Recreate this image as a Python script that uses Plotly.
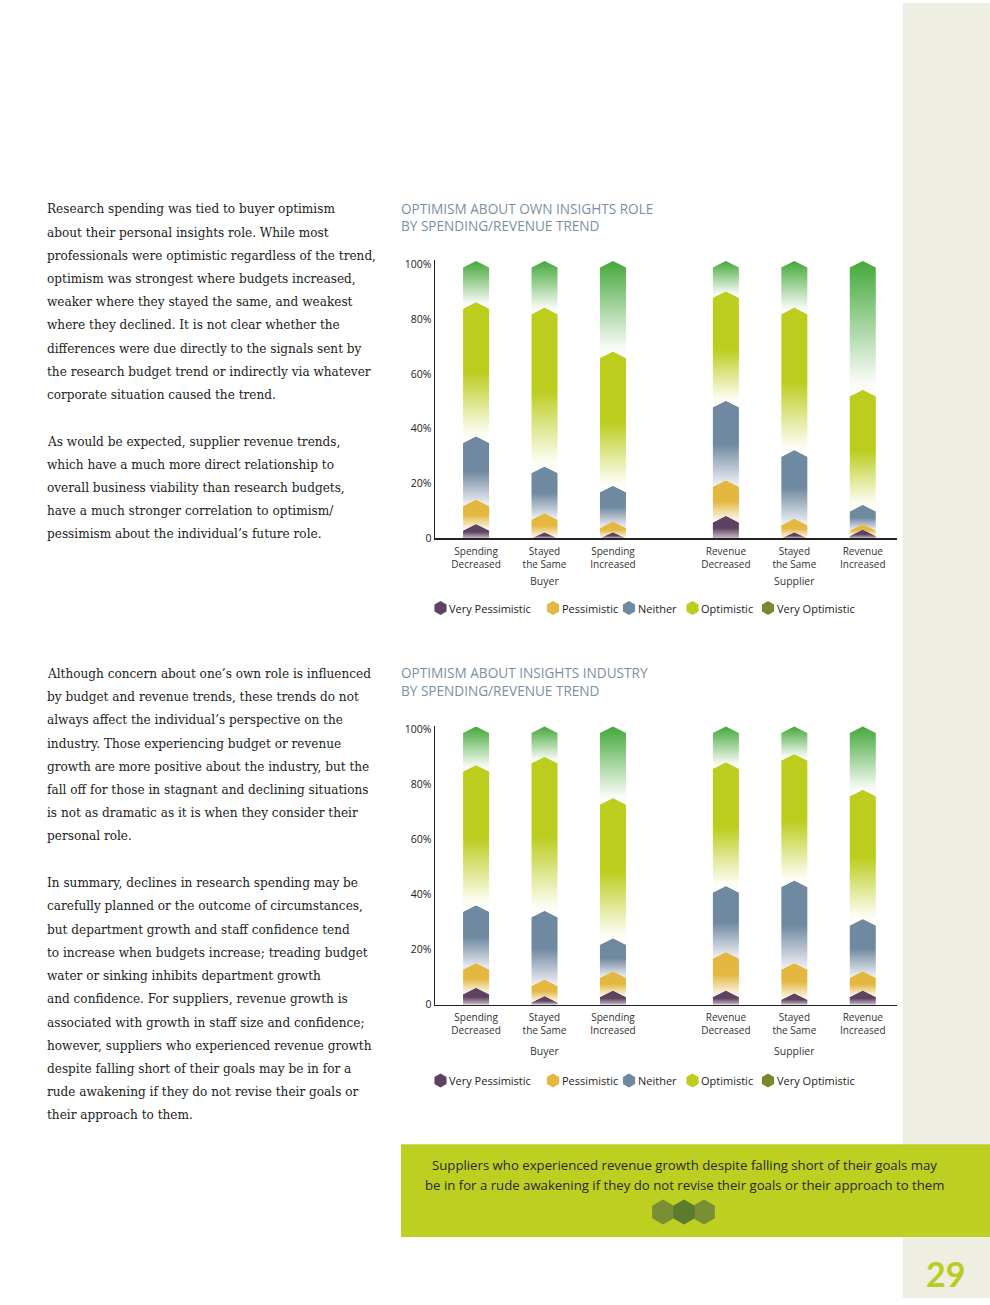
import plotly.graph_objects as go

# ---------------- data ----------------
categories = ["Spending<br>Decreased", "Stayed<br>the Same", "Spending<br>Increased",
              "Revenue<br>Decreased", "Stayed<br>the Same", "Revenue<br>Increased"]
category_group = [0, 0, 0, 1, 1, 1]
groups = ["Buyer", "Supplier"]
series_names = ["Very Pessimistic", "Pessimistic", "Neither", "Optimistic", "Very Optimistic"]

# Chart 1: optimism about own insights role (% of respondents)
role_very_pess = [4, 1, 1, 7, 1, 2]
role_pess = [9, 7, 4, 13, 5, 2]
role_neither = [23, 17, 13, 29, 25, 7]
role_opt = [49, 58, 49, 40, 52, 42]
role_very_opt = [15, 17, 33, 11, 17, 47]

# Chart 2: optimism about insights industry (% of respondents)
ind_very_pess = [5, 2, 4, 4, 3, 4]
ind_pess = [9, 6, 7, 14, 11, 7]
ind_neither = [21, 25, 12, 24, 30, 19]
ind_opt = [51, 56, 51, 45, 46, 47]
ind_very_opt = [14, 11, 26, 13, 10, 23]

y_tick_vals = [0, 20, 40, 60, 80, 100]
y_tick_text = ["0", "20%", "40%", "60%", "80%", "100%"]

# ---------------- styling ----------------
W, H = 990, 1305
K = 1.0045  # vertical compensation for page capture
bar_colors = ["#5e4361", "#e4b741", "#6f89a0", "#bccd1e", "#43a83a"]
legend_colors = ["#5e4361", "#e4b741", "#6f89a0", "#bccd1e", "#788a2e"]
gradients = [
    [[0, "#c9bcc8"], [0.45, "#5e4361"], [1, "#5e4361"]],
    [[0, "#ffffff"], [0.5, "#e4b741"], [1, "#e4b741"]],
    [[0, "#f3f3f8"], [0.5, "#6f89a0"], [1, "#6f89a0"]],
    [[0, "#ffffff"], [0.08, "#fbfcef"], [0.5, "#bccd1e"], [1, "#bccd1e"]],
    [[0, "#ffffff"], [0.12, "#f6faf4"], [1, "#43a83a"]],
]
SANS = "'Open Sans', sans-serif"
SERIF = "'DejaVu Serif', serif"
group_gap = 0.65
bar_w = 0.38
chev = 1.2


def px_y(p):
    return max(0.0, 1 - p * K / H)


positions = [i + group_gap * g for i, g in enumerate(category_group)]

charts = [
    dict(series=[role_very_pess, role_pess, role_neither, role_opt, role_very_opt],
         xa="x", ya="y",
         title=["OPTIMISM ABOUT OWN INSIGHTS ROLE", "BY SPENDING/REVENUE TREND"],
         title_y=[206, 223], group_y=580, legend_y=607),
    dict(series=[ind_very_pess, ind_pess, ind_neither, ind_opt, ind_very_opt],
         xa="x2", ya="y2",
         title=["OPTIMISM ABOUT INSIGHTS INDUSTRY", "BY SPENDING/REVENUE TREND"],
         title_y=[672, 690], group_y=1051, legend_y=1081),
]

fig = go.Figure()
annotations = []

for c in charts:
    for b, xc in enumerate(positions):
        x0, x1 = xc - bar_w / 2, xc + bar_w / 2
        cum = 0.0
        for s, vals in enumerate(c["series"]):
            lo = cum
            hi = cum + vals[b]
            cum = hi
            top_sh = max(hi - chev, 0)
            peak = hi + chev
            if s == 0:
                xs = [x0, x0, xc, x1, x1, x0]
                ys = [0, top_sh, peak, top_sh, 0, 0]
            else:
                lo_sh = max(lo - chev, 0)
                lo_pk = lo + chev
                xs = [x0, x0, xc, x1, x1, xc, x0]
                ys = [lo_sh, top_sh, peak, top_sh, lo_sh, lo_pk, lo_sh]
            fig.add_trace(go.Scatter(
                x=xs, y=ys, xaxis=c["xa"], yaxis=c["ya"], mode="lines",
                fill="toself", line=dict(width=0, color=bar_colors[s]),
                fillgradient=dict(type="vertical", colorscale=gradients[s]),
                showlegend=False, hoverinfo="skip"))

    # titles
    for t, ty in zip(c["title"], c["title_y"]):
        annotations.append(dict(text=t, x=400 / W, y=px_y(ty), xref="paper", yref="paper",
                                xanchor="left", yanchor="middle", showarrow=False, borderpad=0,
                                font=dict(family=SANS, size=13.6, color="#7b8fa4")))
    # group labels
    for g, name in enumerate(groups):
        gx = [p for p, cg in zip(positions, category_group) if cg == g]
        annotations.append(dict(text=name, x=sum(gx) / len(gx), y=px_y(c["group_y"]),
                                xref=c["xa"], yref="paper", xanchor="center", yanchor="middle",
                                showarrow=False, font=dict(family=SANS, size=10.5, color="#333333")))

# decorative overlay axis in page pixels (legend hexagons, callout hexagons)
legend_hex_x = [440.5, 553, 629, 692.5, 768]
for c in charts:
    fig.add_trace(go.Scatter(
        x=legend_hex_x, y=[c["legend_y"]] * 5, xaxis="x3", yaxis="y3", mode="markers",
        marker=dict(symbol="hexagon", size=14, color=legend_colors, line=dict(width=0)),
        showlegend=False, hoverinfo="skip"))
    for hx, name in zip(legend_hex_x, series_names):
        annotations.append(dict(text=name, x=(hx + 6.5) / W, y=px_y(c["legend_y"]),
                                xref="paper", yref="paper", xanchor="left", yanchor="middle",
                                showarrow=False, font=dict(family=SANS, size=11, color="#222222")))

fig.add_trace(go.Scatter(
    x=[663, 704, 684], y=[1213, 1213, 1213], xaxis="x3", yaxis="y3", mode="markers",
    marker=dict(symbol="hexagon", size=25, color=["#7a8e35", "#7a8e35", "#5b7b2d"], line=dict(width=0)),
    showlegend=False, hoverinfo="skip"))

# ---------------- left body text ----------------
paragraphs = [
    (207, ["Research spending was tied to buyer optimism",
           "about their personal insights role. While most",
           "professionals were optimistic regardless of the trend,",
           "optimism was strongest where budgets increased,",
           "weaker where they stayed the same, and weakest",
           "where they declined. It is not clear whether the",
           "differences were due directly to the signals sent by",
           "the research budget trend or indirectly via whatever",
           "corporate situation caused the trend."]),
    (440, ["As would be expected, supplier revenue trends,",
           "which have a much more direct relationship to",
           "overall business viability than research budgets,",
           "have a much stronger correlation to optimism/",
           "pessimism about the individual’s future role."]),
    (673, ["Although concern about one’s own role is influenced",
           "by budget and revenue trends, these trends do not",
           "always affect the individual’s perspective on the",
           "industry. Those experiencing budget or revenue",
           "growth are more positive about the industry, but the",
           "fall off for those in stagnant and declining situations",
           "is not as dramatic as it is when they consider their",
           "personal role."]),
    (883, ["In summary, declines in research spending may be",
           "carefully planned or the outcome of circumstances,",
           "but department growth and staff confidence tend",
           "to increase when budgets increase; treading budget",
           "water or sinking inhibits department growth",
           "and confidence. For suppliers, revenue growth is",
           "associated with growth in staff size and confidence;",
           "however, suppliers who experienced revenue growth",
           "despite falling short of their goals may be in for a",
           "rude awakening if they do not revise their goals or",
           "their approach to them."]),
]
line_h = 23.3
for y0, lines in paragraphs:
    for i, ln in enumerate(lines):
        annotations.append(dict(text=ln, x=45 / W, y=px_y(y0 + i * line_h), xref="paper", yref="paper",
                                xanchor="left", yanchor="middle", showarrow=False,
                                font=dict(family=SERIF, size=12.1, color="#222222")))

# callout text
for ty, t in [(1166, "Suppliers who experienced revenue growth despite falling short of their goals may"),
              (1186, "be in for a rude awakening if they do not revise their goals or their approach to them")]:
    annotations.append(dict(text=t, x=684 / W, y=px_y(ty), xref="paper", yref="paper",
                            xanchor="center", yanchor="middle", showarrow=False,
                            font=dict(family=SANS, size=13.2, color="#2a2a2a")))

# page number
annotations.append(dict(text="<b>29</b>", x=945 / W, y=px_y(1275), xref="paper", yref="paper",
                        xanchor="center", yanchor="middle", showarrow=False,
                        font=dict(family="Lato, sans-serif", size=34, color="#b9cc21")))

shapes = [
    dict(type="rect", xref="paper", yref="paper", x0=903 / W, x1=1, y0=0, y1=1,
         fillcolor="#eeeee2", line=dict(width=0), layer="below"),
    dict(type="rect", xref="paper", yref="paper", x0=401 / W, x1=1, y0=px_y(1238), y1=px_y(1145),
         fillcolor="#bdcf20", line=dict(width=0), layer="below"),
]

xdom = [435 / W, 897 / W]
common_x = dict(range=[-0.6, 6.15], showgrid=False, zeroline=False, showline=True,
                linecolor="#222222", linewidth=1.5, ticks="", tickmode="array",
                tickvals=positions, ticktext=categories, ticklabelstandoff=3,
                tickfont=dict(family=SANS, size=10, color="#333333"), fixedrange=True)
common_y = dict(range=[0, 101.5], showgrid=False, zeroline=False, showline=True,
                linecolor="#222222", linewidth=1.5, ticks="", tickmode="array",
                tickvals=y_tick_vals, ticktext=y_tick_text,
                tickfont=dict(family=SANS, size=10.5, color="#222222"), fixedrange=True)

fig.update_layout(
    width=W, height=H, margin=dict(l=0, r=0, t=0, b=0),
    paper_bgcolor="white", plot_bgcolor="rgba(0,0,0,0)",
    xaxis=dict(domain=xdom, anchor="y", **common_x),
    yaxis=dict(domain=[px_y(537), px_y(258)], anchor="x", **common_y),
    xaxis2=dict(domain=xdom, anchor="y2", **common_x),
    yaxis2=dict(domain=[px_y(1005), px_y(725)], anchor="x2", **common_y),
    xaxis3=dict(domain=[0, 1], range=[0, W], visible=False, anchor="y3", fixedrange=True),
    yaxis3=dict(domain=[0, 1], range=[H / K, 0], visible=False, anchor="x3", fixedrange=True),
    annotations=annotations, shapes=shapes, showlegend=False,
)

page_css = ("var s=document.documentElement.style, b=document.body.style;"
            "s.margin='0';s.padding='0';s.overflow='hidden';"
            "b.margin='0';b.padding='0';b.overflow='hidden';"
            "var g=document.getElementById('{plot_id}');"
            "g.style.position='fixed';g.style.top='0px';g.style.left='0px';")
fig.write_html("out.html", config={"displayModeBar": False, "staticPlot": True},
               post_script=page_css)
